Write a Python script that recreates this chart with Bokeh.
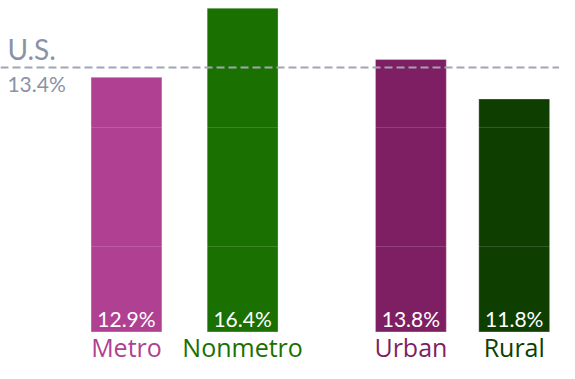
from bokeh.plotting import figure
from bokeh.models import ColumnDataSource, Span, FixedTicker
from bokeh.core.properties import value
from bokeh.embed import file_html
from bokeh.resources import INLINE

# data
categories = ["Metro", "Nonmetro", "Urban", "Rural"]
rates = [12.9, 16.4, 13.8, 11.8]
us_rate = 13.4
us_label = "U.S."

# layout / style
positions = [130, 248, 419, 524]
colors = ["#B04092", "#1A7000", "#7F1F63", "#0E3E00"]
FONT = "Lato"
LABEL_FONT = "Open Sans"

src = ColumnDataSource(dict(
    x=positions, top=rates, cat=categories, color=colors,
    lbl=[f"{r:.1f}%" for r in rates],
))

p = figure(width=559, height=363, output_backend="svg", toolbar_location=None,
           x_range=(2, 570), y_range=(-1.6, 16.79), min_border=0,
           outline_line_color=None)
p.axis.visible = False
p.xgrid.visible = False
p.ygrid.ticker = FixedTicker(ticks=[4.32, 10.36])
p.ygrid.grid_line_color = "white"
p.ygrid.grid_line_alpha = 0.15
p.ygrid.level = "overlay"

p.vbar(x="x", top="top", bottom=0, width=72, fill_color="color",
       line_color="white", line_alpha=0.3, line_width=1, source=src)

p.add_layout(Span(location=us_rate, dimension="width", line_color="#A0A6B8",
                  line_dash="8 4", line_width=2))

p.text(x="x", y=0, text="lbl", source=src, text_color="white",
       text_align="center", text_baseline="bottom", y_offset=-1,
       text_font=value(FONT), text_font_size="21px")
p.text(x="x", y=0, text="cat", source=src, text_color="color",
       text_align="center", text_baseline="top", y_offset=-2,
       text_font=value(LABEL_FONT), text_font_size="25px")

p.text(x=[9], y=[us_rate], text=[us_label], text_color="#8A93A6",
       text_align="left", text_baseline="bottom", y_offset=-1,
       text_font=value(FONT), text_font_size="28px")
p.text(x=[9], y=[us_rate], text=[f"{us_rate:.1f}%"], text_color="#8A93A6",
       text_align="left", text_baseline="top", y_offset=4,
       text_font=value(FONT), text_font_size="21px")

open("out.html", "w").write(file_html(p, INLINE))
